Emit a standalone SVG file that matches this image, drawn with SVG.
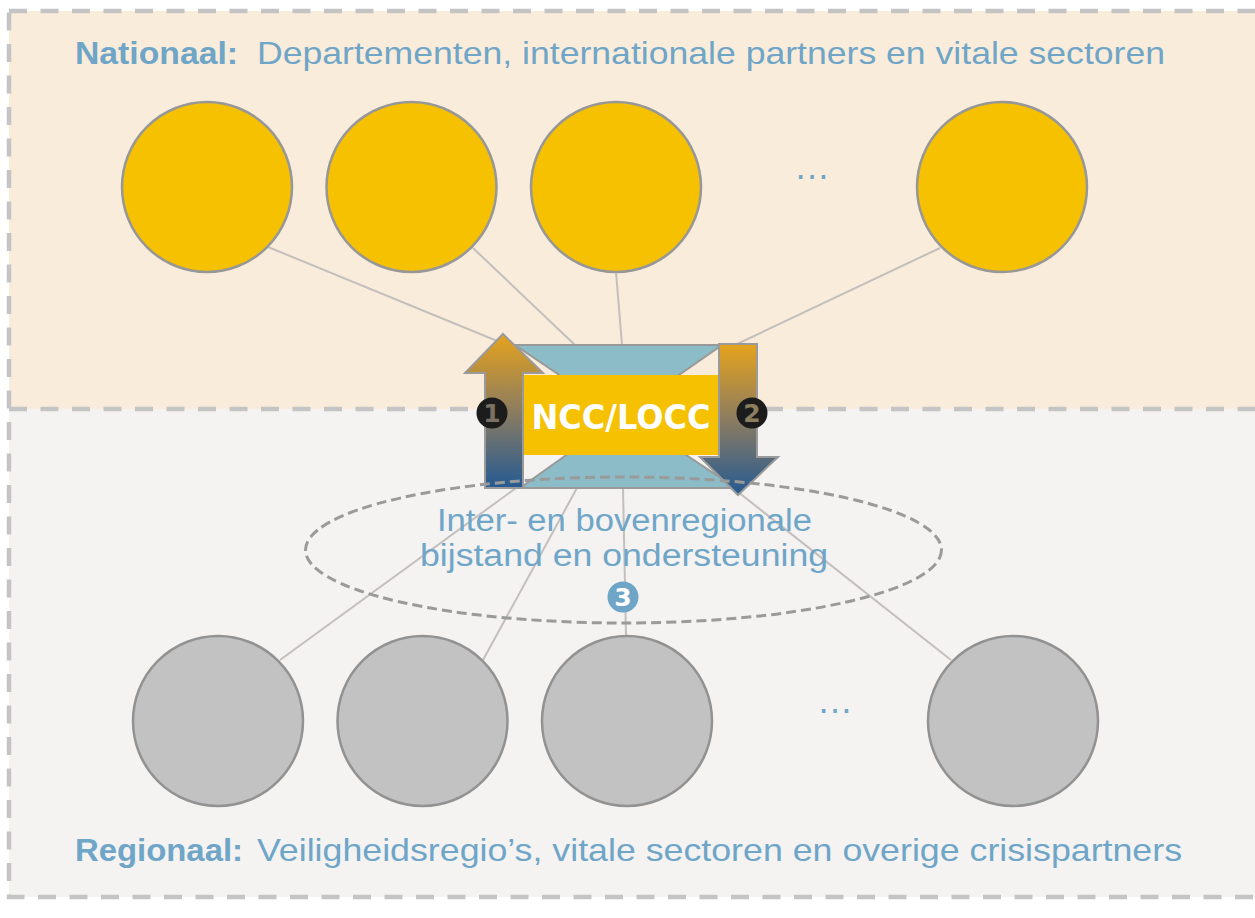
<svg xmlns="http://www.w3.org/2000/svg" width="1255" height="918" viewBox="0 0 1255 918">
  <defs>
    <linearGradient id="gArrow" x1="0" y1="0" x2="0" y2="1">
      <stop offset="0" stop-color="#e6a31c"/>
      <stop offset="0.5" stop-color="#8c7c60"/>
      <stop offset="1" stop-color="#255a93"/>
    </linearGradient>
    <style>
      .border { fill: none; stroke: #c4c4c4; stroke-width: 4.5; stroke-dasharray: 18 13.5; }
      .conn { stroke: #c3bfbd; stroke-width: 2; fill: none; }
      .nat { fill: #f5c100; stroke: #979797; stroke-width: 2.5; }
      .reg { fill: #c2c2c2; stroke: #929292; stroke-width: 2.5; }
      .lbl { font-family: "Liberation Sans", Arial, sans-serif; fill: #6fa5c7; }
      .b { font-weight: bold; }
      .hg { fill: #8bbcc7; stroke: #999999; stroke-width: 2; stroke-linejoin: miter; }
      .arrow { fill: url(#gArrow); stroke: #9a9a9a; stroke-width: 2; }
      .badge { fill: #1c1c1c; }
      .num { font-family: "DejaVu Sans", sans-serif; font-weight: bold; font-size: 25px; text-anchor: middle; }
    </style>
  </defs>

  <!-- panels -->
  <g id="panels">
    <rect x="9" y="11" width="1250" height="398" fill="#faecdb"/>
    <rect x="9" y="409" width="1250" height="488" fill="#f4f3f2"/>
    <rect class="border" x="9" y="11" width="1250" height="886"/>
    <line class="border" x1="9" y1="409" x2="1259" y2="409"/>
    <text class="lbl b" x="75" y="64" font-size="32" textLength="163" lengthAdjust="spacingAndGlyphs">Nationaal:</text>
    <text class="lbl" x="257" y="64" font-size="32" textLength="908" lengthAdjust="spacingAndGlyphs">Departementen, internationale partners en vitale sectoren</text>
    <text class="lbl b" x="75" y="861" font-size="32" textLength="168" lengthAdjust="spacingAndGlyphs">Regionaal:</text>
    <text class="lbl" x="257" y="861" font-size="32" textLength="925" lengthAdjust="spacingAndGlyphs">Veiligheidsregio’s, vitale sectoren en overige crisispartners</text>
  </g>

  <!-- connectors -->
  <g id="connectors">
    <line class="conn" x1="268" y1="247" x2="507" y2="345"/>
    <line class="conn" x1="473" y1="248" x2="575" y2="345"/>
    <line class="conn" x1="616" y1="272" x2="622" y2="345"/>
    <line class="conn" x1="940" y1="248" x2="735" y2="345"/>
    <line class="conn" x1="280" y1="660" x2="516" y2="488"/>
    <line class="conn" x1="483" y1="660" x2="577" y2="488"/>
    <line class="conn" x1="626" y1="636" x2="623" y2="488"/>
    <line class="conn" x1="951" y1="660" x2="733" y2="488"/>
  </g>

  <!-- national nodes -->
  <g id="nat-1"><circle class="nat" cx="207" cy="187" r="85"/></g>
  <g id="nat-2"><circle class="nat" cx="411.5" cy="187" r="85"/></g>
  <g id="nat-3"><circle class="nat" cx="616" cy="187" r="85"/></g>
  <g id="nat-more"><text class="lbl" x="812" y="179" font-size="36" text-anchor="middle">…</text></g>
  <g id="nat-4"><circle class="nat" cx="1002" cy="187" r="85"/></g>

  <!-- regional nodes -->
  <g id="reg-1"><circle class="reg" cx="218" cy="721" r="85"/></g>
  <g id="reg-2"><circle class="reg" cx="422.5" cy="721" r="85"/></g>
  <g id="reg-3"><circle class="reg" cx="627" cy="721" r="85"/></g>
  <g id="reg-more"><text class="lbl" x="835" y="713" font-size="36" text-anchor="middle">…</text></g>
  <g id="reg-4"><circle class="reg" cx="1013" cy="721" r="85"/></g>

  <!-- NCC/LOCC hub -->
  <g id="ncc">
    <polygon class="hg" points="515,345 722,345 620,416"/>
    <polygon class="hg" points="520,488 736,488 624,414"/>
    <rect x="523" y="375" width="196" height="80" fill="#f5c100"/>
    <text x="621" y="429" font-family="DejaVu Sans, sans-serif" font-weight="bold" font-size="33" fill="#ffffff" text-anchor="middle" textLength="179" lengthAdjust="spacingAndGlyphs">NCC/LOCC</text>
  </g>

  <!-- arrow 1 (up) -->
  <g id="arrow-up">
    <polygon class="arrow" points="485,488 523,488 523,373 543,373 503,334 465,373 485,373"/>
  </g>
  <!-- arrow 2 (down) -->
  <g id="arrow-down">
    <polygon class="arrow" points="719,344 757,344 757,457 778,457 738,495 700,457 719,457"/>
  </g>

  <!-- support ellipse -->
  <g id="support">
    <ellipse cx="623.5" cy="550" rx="318" ry="73" fill="none" stroke="#9a9a9a" stroke-width="3" stroke-dasharray="10 5"/>
    <text class="lbl" x="624.5" y="531" font-size="31" text-anchor="middle" textLength="375" lengthAdjust="spacingAndGlyphs">Inter- en bovenregionale</text>
    <text class="lbl" x="624" y="566" font-size="31" text-anchor="middle" textLength="408" lengthAdjust="spacingAndGlyphs">bijstand en ondersteuning</text>
  </g>

  <!-- badges -->
  <g id="badge-1">
    <circle class="badge" cx="492" cy="413" r="15.5"/>
    <text class="num" x="492" y="422" fill="#7a7162">1</text>
  </g>
  <g id="badge-2">
    <circle class="badge" cx="752" cy="413" r="15.5"/>
    <text class="num" x="752" y="422" fill="#8d7e5e">2</text>
  </g>
  <g id="badge-3">
    <circle cx="623" cy="597" r="15.5" fill="#6fa5c7"/>
    <text class="num" x="623" y="606" fill="#ffffff">3</text>
  </g>
</svg>
